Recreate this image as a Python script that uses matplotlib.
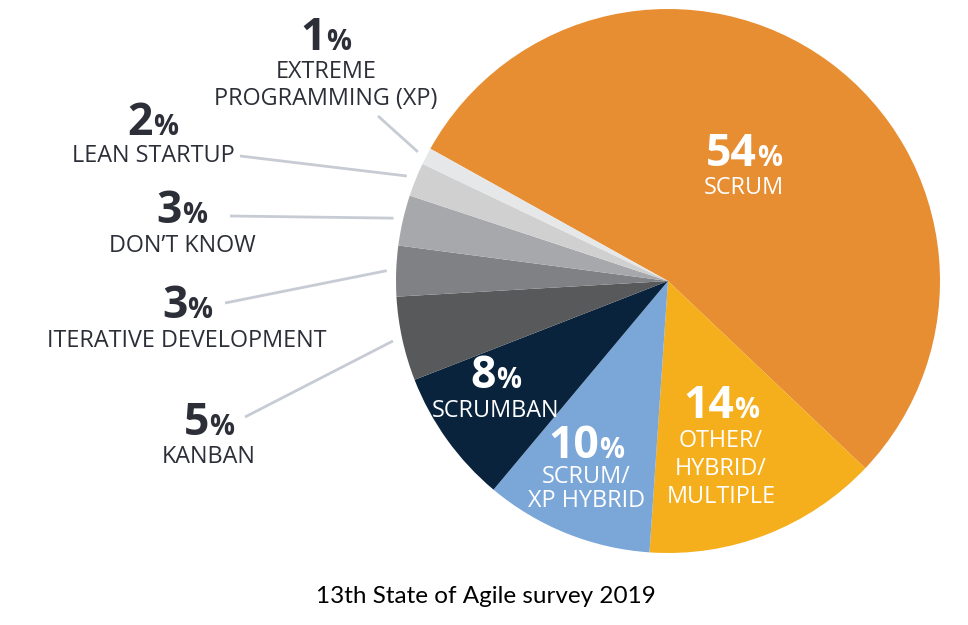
import matplotlib
matplotlib.use("Agg")
import matplotlib.pyplot as plt
import numpy as np

# ---- data ----
categories = ["SCRUM", "OTHER/\nHYBRID/\nMULTIPLE", "SCRUM/\nXP HYBRID", "SCRUMBAN",
              "KANBAN", "ITERATIVE DEVELOPMENT", "DON\u2019T KNOW", "LEAN STARTUP",
              "EXTREME\nPROGRAMMING (XP)"]
values = [54, 14, 10, 8, 5, 3, 3, 2, 1]
colors = ["#E88E32", "#F5AE1C", "#7BA7D8", "#0A233D", "#58595B",
          "#808184", "#A7A8AB", "#D0D0D1", "#E6E7E8"]
title = "13th State of Agile survey 2019"

W, H = 968, 625
fig = plt.figure(figsize=(W / 100, H / 100), dpi=100)
ax = fig.add_axes([0, 0, 1, 1])

CX, CY, R = 668, H - 281, 272
wedges, _ = ax.pie(values, colors=colors, startangle=150.9, counterclock=False,
                   center=(CX, CY), radius=R, wedgeprops=dict(linewidth=0))
ax.set_xlim(0, W)
ax.set_ylim(0, H)
ax.set_aspect("equal")
ax.axis("off")

FONT = "Open Sans"
DARK = "#2D2F38"
NUM_SIZE = 32
PCT_SIZE = 20
LAB_SIZE = 16.8

renderer = fig.canvas.get_renderer()


def text_width(s, size, weight):
    t = ax.text(0, 0, s, fontsize=size, fontweight=weight, family=FONT)
    w = t.get_window_extent(renderer).width
    t.remove()
    return w


def pct_label(x, y_top, value, color):
    y = H - y_top
    num = f"{value}"
    w1 = text_width(num, NUM_SIZE, "bold")
    w2 = text_width("%", PCT_SIZE, "bold")
    tot = w1 + w2
    ax.annotate(num, xy=(x, y), xytext=(-tot / 2, 0), textcoords="offset pixels",
                ha="left", va="baseline", fontsize=NUM_SIZE, fontweight="bold",
                family=FONT, color=color)
    ax.annotate("%", xy=(x, y), xytext=(-tot / 2 + w1, 0), textcoords="offset pixels",
                ha="left", va="baseline", fontsize=PCT_SIZE, fontweight="bold",
                family=FONT, color=color)


def name_label(x, y_top_first, name, color, spacing=28):
    for i, line in enumerate(name.split("\n")):
        ax.text(x, H - (y_top_first + i * spacing), line, ha="center", va="baseline",
                fontsize=LAB_SIZE, family=FONT, color=color)


# layout: (x, number baseline, first label baseline, color, leader start or None)
layout = [
    (744, 166, 194, "white", None),
    (721, 418, 447, "white", None),
    (586, 458, 483, "white", None),
    (496, 388, 417, "white", None),
    (209, 435, 463, DARK, (245, 417)),
    (187, 318, 347, DARK, (225, 303)),
    (182, 223, 252, DARK, (230, 216)),
    (153, 135, 162, DARK, (240, 156)),
    (326, 50, 78, DARK, (378, 116)),
]

spacings = [28, 28, 24, 28, 28, 28, 28, 28, 27]

for i, (x, yn, yl, col, lead) in enumerate(layout):
    pct_label(x, yn, values[i], col)
    name_label(x, yl, categories[i], col, spacing=spacings[i])
    if lead is not None:
        w = wedges[i]
        th = np.deg2rad((w.theta1 + w.theta2) / 2)
        ex = CX + R * 1.035 * np.cos(th)
        ey = CY + R * 1.035 * np.sin(th)
        ax.plot([lead[0], ex], [H - lead[1], ey], color="#C6CBD4", lw=2.0,
                solid_capstyle="butt")

ax.text(485.5, H - 603, title, ha="center", va="baseline", fontsize=17.5,
        family="Lato", color="black")

fig.savefig("out.png", dpi=100)
